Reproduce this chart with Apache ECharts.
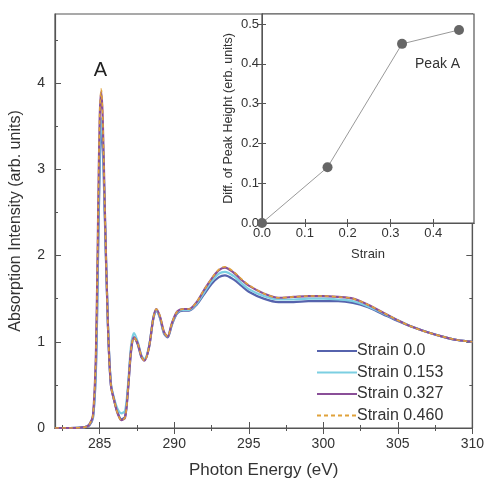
<!DOCTYPE html>
<html>
<head>
<meta charset="utf-8">
<title>Strain spectra</title>
<script src="https://cdn.jsdelivr.net/npm/echarts@6/dist/echarts.min.js"></script>
<style>
  html, body { margin: 0; padding: 0; background: #fff; }
  #main { width: 487px; height: 484px; }
</style>
</head>
<body>
<div id="main"></div>
<script>
// photon energy (eV)
var energy = [282, 283, 284, 284.3, 284.55, 284.75, 284.9, 285.0, 285.1, 285.2, 285.35, 285.55, 285.75, 286.0,
  286.2, 286.45, 286.7, 286.9, 287.1, 287.3, 287.55, 287.8, 288.0, 288.3, 288.6, 288.8, 289.05, 289.3, 289.55,
  289.85, 290.2, 290.6, 291.0, 291.5, 292.0, 292.5, 293.0, 293.4, 294.0, 294.5, 295.0, 296.0, 297.0, 298.0,
  299.0, 300.0, 301.0, 302.0, 303.0, 304.0, 305.0, 306.0, 307.0, 308.0, 309.0, 310.0];

var strain000 = [0, 0, 0.01, 0.03, 0.12, 0.7, 2.1, 3.0, 3.45, 3.3, 2.4, 1.2, 0.5, 0.3,
  0.18, 0.1, 0.13, 0.45, 0.88, 1.05, 0.97, 0.82, 0.79, 0.93, 1.27, 1.36, 1.27, 1.1, 1.05,
  1.2, 1.33, 1.36, 1.36, 1.43, 1.55, 1.67, 1.75, 1.77, 1.72, 1.65, 1.58, 1.5, 1.46, 1.46,
  1.47, 1.47, 1.47, 1.45, 1.4, 1.32, 1.24, 1.17, 1.11, 1.06, 1.02, 1.0];

var strain153 = [0, 0, 0.01, 0.04, 0.13, 0.75, 2.25, 3.2, 3.59, 3.4, 2.45, 1.22, 0.52, 0.32,
  0.22, 0.17, 0.2, 0.5, 0.95, 1.1, 1.0, 0.84, 0.8, 0.94, 1.28, 1.37, 1.28, 1.11, 1.06,
  1.21, 1.34, 1.37, 1.37, 1.44, 1.57, 1.7, 1.79, 1.81, 1.76, 1.68, 1.61, 1.53, 1.49, 1.49,
  1.5, 1.5, 1.49, 1.47, 1.41, 1.33, 1.25, 1.17, 1.11, 1.06, 1.02, 1.0];

var strain327 = [0, 0, 0.01, 0.04, 0.15, 0.9, 2.55, 3.6, 3.9, 3.6, 2.5, 1.2, 0.5, 0.3,
  0.17, 0.09, 0.12, 0.45, 0.9, 1.05, 0.98, 0.83, 0.78, 0.93, 1.28, 1.38, 1.29, 1.12, 1.06,
  1.22, 1.35, 1.38, 1.38, 1.46, 1.6, 1.73, 1.83, 1.86, 1.8, 1.72, 1.65, 1.56, 1.51, 1.52,
  1.53, 1.53, 1.52, 1.5, 1.43, 1.34, 1.25, 1.17, 1.11, 1.06, 1.02, 1.0];

var strain460 = [0, 0, 0.01, 0.04, 0.15, 0.9, 2.6, 3.65, 3.93, 3.62, 2.5, 1.2, 0.5, 0.3,
  0.17, 0.09, 0.12, 0.45, 0.9, 1.05, 0.98, 0.83, 0.78, 0.93, 1.28, 1.38, 1.3, 1.12, 1.06,
  1.22, 1.35, 1.38, 1.38, 1.46, 1.6, 1.73, 1.84, 1.87, 1.81, 1.73, 1.66, 1.56, 1.51, 1.52,
  1.53, 1.53, 1.52, 1.5, 1.43, 1.34, 1.25, 1.17, 1.11, 1.06, 1.02, 1.0];

// inset: difference of peak A height vs strain
var strainValues = [0, 0.153, 0.327, 0.460];
var peakDiff = [0, 0.14, 0.45, 0.485];

var xMajor = [285, 290, 295, 300, 305, 310];
var xMinor = [282.5, 287.5, 292.5, 297.5, 302.5, 307.5];
var yMajor = [0, 1, 2, 3, 4];
var yMinor = [0.5, 1.5, 2.5, 3.5, 4.5];
var insetX = [0, 0.1, 0.2, 0.3, 0.4];
var insetY = [0, 0.1, 0.2, 0.3, 0.4, 0.5];

var legendNames = ['Strain 0.0', 'Strain 0.153', 'Strain 0.327', 'Strain 0.460'];
var colors = ['#5663ad', '#7ccfe2', '#8a4f98', '#e0a23a'];

function pairs(xs, ys) {
  return xs.map(function (x, i) { return [x, ys[i]]; });
}

var chart = echarts.init(document.getElementById('main'));
var txt = '#333';
var axisCol = '#555';
var font = 'Liberation Sans, Arial, sans-serif';

function tickAxis(grid, pos, min, max, values, len, showLine) {
  return {
    type: 'value', gridIndex: grid, position: pos, min: min, max: max,
    axisLine: { show: showLine, lineStyle: { color: axisCol, width: 1.2 } },
    axisTick: { show: true, inside: true, length: len, customValues: values, lineStyle: { color: axisCol } },
    axisLabel: { show: false },
    splitLine: { show: false }
  };
}

var series = [strain000, strain153, strain327, strain460].map(function (vals, i) {
  var s = {
    name: legendNames[i],
    type: 'line',
    xAxisIndex: 0, yAxisIndex: 0,
    data: pairs(energy, vals),
    symbol: 'none',
    smooth: 0.3,
    z: 2 + i,
    lineStyle: { color: colors[i], width: i === 3 ? 1.6 : 2.2, type: i === 3 ? [4, 3] : 'solid' },
    itemStyle: { color: colors[i] }
  };
  if (i === 3) {
    s.markPoint = {
      symbol: 'circle', symbolSize: 0,
      label: { show: true, formatter: 'A', fontSize: 20, color: '#222', fontFamily: font, position: 'inside' },
      data: [{ coord: [285.05, 4.15] }]
    };
  }
  return s;
});

series.push({
  name: 'Peak A',
  type: 'line',
  xAxisIndex: 8, yAxisIndex: 8,
  data: pairs(strainValues, peakDiff),
  symbol: 'circle', symbolSize: 10,
  lineStyle: { color: '#999', width: 1 },
  itemStyle: { color: '#666' },
  z: 10,
  markPoint: {
    symbol: 'circle', symbolSize: 0,
    label: { show: true, formatter: 'Peak A', fontSize: 14, color: '#333', fontFamily: font, position: 'inside' },
    data: [{ coord: [0.41, 0.398] }]
  }
});

chart.setOption({
  animation: false,
  textStyle: { fontFamily: font },
  grid: [
    { left: 54, right: 13, top: 14, bottom: 54, show: true, borderColor: axisCol, borderWidth: 1.2 },
    { left: 262, right: 13, top: 14, bottom: 261, show: true, borderColor: axisCol, borderWidth: 1.2,
      backgroundColor: '#fff', z: 5 }
  ],
  legend: {
    data: legendNames,
    orient: 'vertical',
    left: 311, top: 338,
    itemWidth: 40, itemHeight: 14, itemGap: 5.5,
    itemStyle: { opacity: 0 },
    textStyle: { fontSize: 16, color: txt, padding: [0, 0, 0, -5] }
  },
  xAxis: [
    {
      type: 'value', gridIndex: 0, position: 'bottom', min: 282, max: 310,
      name: 'Photon Energy (eV)', nameLocation: 'middle', nameGap: 34,
      nameTextStyle: { fontSize: 17, color: txt },
      axisLine: { show: true, lineStyle: { color: axisCol, width: 1.2 } },
      axisTick: { show: true, inside: true, length: 6, customValues: xMajor, lineStyle: { color: axisCol } },
      axisLabel: { show: true, customValues: xMajor, fontSize: 14, color: txt, margin: 9 },
      splitLine: { show: false }
    },
    tickAxis(0, 'bottom', 282, 310, xMinor, 3, false),
    tickAxis(0, 'top', 282, 310, xMajor, 6, true),
    tickAxis(0, 'top', 282, 310, xMinor, 3, false),
    {
      type: 'value', gridIndex: 1, position: 'bottom', min: 0, max: 0.495,
      name: 'Strain', nameLocation: 'middle', nameGap: 25,
      nameTextStyle: { fontSize: 13, color: txt },
      axisLine: { show: true, lineStyle: { color: axisCol } },
      axisTick: { show: true, inside: true, length: 4, customValues: insetX, lineStyle: { color: axisCol } },
      axisLabel: { show: true, customValues: insetX, fontSize: 13, color: txt, margin: 4,
        formatter: function (v) { return v.toFixed(1); } },
      splitLine: { show: false },
      z: 6
    },
    tickAxis(1, 'top', 0, 0.495, insetX, 4, true),
    { type: 'value', gridIndex: 1, show: false, min: 0, max: 0.495 },
    { type: 'value', gridIndex: 1, show: false, min: 0, max: 0.495 },
    { type: 'value', gridIndex: 1, position: 'bottom', min: 0, max: 0.495, show: false }
  ],
  yAxis: [
    {
      type: 'value', gridIndex: 0, position: 'left', min: 0, max: 4.8,
      name: 'Absorption Intensity (arb. units)', nameLocation: 'middle', nameGap: 31,
      nameTextStyle: { fontSize: 16, color: txt },
      axisLine: { show: true, lineStyle: { color: axisCol, width: 1.2 } },
      axisTick: { show: true, inside: true, length: 6, customValues: yMajor, lineStyle: { color: axisCol } },
      axisLabel: { show: true, customValues: yMajor, fontSize: 14, color: txt, margin: 10 },
      splitLine: { show: false }
    },
    tickAxis(0, 'left', 0, 4.8, yMinor, 3, false),
    tickAxis(0, 'right', 0, 4.8, yMajor, 6, true),
    tickAxis(0, 'right', 0, 4.8, yMinor, 3, false),
    {
      type: 'value', gridIndex: 1, position: 'left', min: 0, max: 0.525,
      name: 'Diff. of Peak Height (erb. units)', nameLocation: 'middle', nameGap: 27,
      nameTextStyle: { fontSize: 12.5, color: txt },
      axisLine: { show: true, lineStyle: { color: axisCol } },
      axisTick: { show: true, inside: true, length: 4, customValues: insetY, lineStyle: { color: axisCol } },
      axisLabel: { show: true, customValues: insetY, fontSize: 13, color: txt, margin: 3,
        formatter: function (v) { return v.toFixed(1); } },
      splitLine: { show: false },
      z: 6
    },
    tickAxis(1, 'right', 0, 0.525, insetY, 4, true),
    { type: 'value', gridIndex: 1, show: false, min: 0, max: 0.525 },
    { type: 'value', gridIndex: 1, show: false, min: 0, max: 0.525 },
    { type: 'value', gridIndex: 1, position: 'left', min: 0, max: 0.525, show: false }
  ],
  series: series
});
</script>
</body>
</html>
